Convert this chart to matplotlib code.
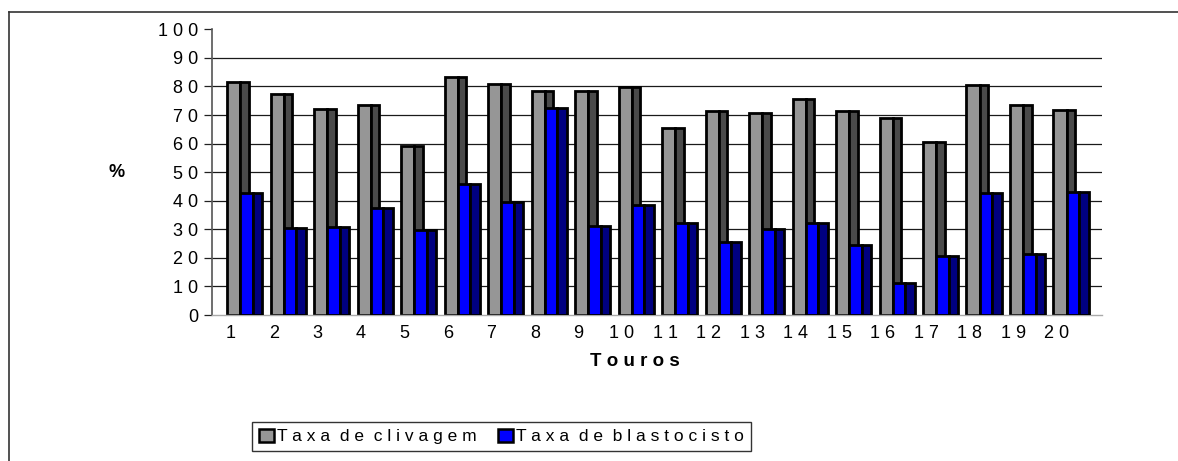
import matplotlib
matplotlib.use("Agg")
import matplotlib.pyplot as plt
from matplotlib.patches import Patch
from matplotlib.lines import Line2D

plt.rcParams['font.family'] = ['Liberation Sans', 'DejaVu Sans']

# ---- data ----
touros = [str(i) for i in range(1, 21)]
clivagem = [81.5, 77.2, 72.0, 73.5, 59.0, 83.2, 80.7, 78.4, 78.3, 79.8,
            65.3, 71.3, 70.7, 75.6, 71.3, 69.0, 60.6, 80.4, 73.6, 71.6]
blastocisto = [42.7, 30.5, 30.8, 37.5, 29.7, 45.7, 39.5, 72.3, 31.0, 38.4,
               32.3, 25.4, 30.1, 32.1, 24.4, 11.1, 20.6, 42.6, 21.3, 43.0]
yticks = list(range(0, 101, 10))
gridvals = list(range(10, 91, 10))
series_labels = ["Taxa de clivagem", "Taxa de blastocisto"]

def spaced(s):
    return " ".join(s)

W, H = 1178, 461
fig = plt.figure(figsize=(W / 100, H / 100), dpi=100)
ax = fig.add_axes([212 / W, (H - 315) / H, (1102 - 212) / W, (315 - 29.3) / H])

x = list(range(len(touros)))
lw = 2.0

gray_front, gray_side = "#969696", "#4a4a4a"
blue_front, blue_side = "#0000ff", "#000080"

# gridlines (back wall)
ax.hlines(gridvals, -0.5, 19.96, colors="#1a1a1a", linewidth=0.9, zorder=1)

# gray series: front face + side face
ax.bar([i - 0.155 for i in x], clivagem, width=0.30, align="edge",
       color=gray_front, edgecolor="black", linewidth=lw, zorder=2)
ax.bar([i + 0.144 for i in x], clivagem, width=0.206, align="edge",
       color=gray_side, edgecolor="black", linewidth=lw, zorder=2)
# blue series
ax.bar([i + 0.144 for i in x], blastocisto, width=0.292, align="edge",
       color=blue_front, edgecolor="black", linewidth=lw, zorder=3)
ax.bar([i + 0.436 for i in x], blastocisto, width=0.22, align="edge",
       color=blue_side, edgecolor="black", linewidth=lw, zorder=3)

ax.set_xlim(-0.5, 19.96)
ax.set_ylim(0, 100)

ax.set_yticks(yticks)
ax.set_yticklabels([spaced(str(v)) for v in yticks], fontsize=13)
ax.tick_params(axis="y", length=6, width=0.9, color="#222", pad=4)

ax.set_xticks([i - 0.08 for i in x])
ax.set_xticklabels([spaced(t) for t in touros], fontsize=13)
ax.tick_params(axis="x", length=0, pad=7)

for s in ["top", "right"]:
    ax.spines[s].set_visible(False)
ax.spines["left"].set_color("#555555")
ax.spines["left"].set_linewidth(1.2)
ax.spines["bottom"].set_color("#aaaaaa")
ax.spines["bottom"].set_linewidth(1.0)

fig.text(117 / W, (H - 172) / H, "%", fontsize=13, fontweight="bold",
         ha="center", va="center")
fig.text(635 / W, (H - 361) / H, spaced("Touros"), fontsize=13.5, fontweight="bold",
         ha="center", va="center")

handles = [Patch(facecolor=gray_front, edgecolor="black", linewidth=1.8),
           Patch(facecolor=blue_front, edgecolor="black", linewidth=1.8)]
labels = ["  ".join(spaced(w) for w in lab.split()) for lab in series_labels]
leg = fig.legend(handles, labels, loc="center", bbox_to_anchor=(501.5 / W, (H - 436.5) / H),
                 ncol=2, fontsize=12.5, frameon=True, fancybox=False, edgecolor="black",
                 handlelength=0.85, handleheight=0.85, handletextpad=0.2, columnspacing=1.2,
                 borderpad=0.4)
leg.get_frame().set_linewidth(1.0)

# outer frame lines
fig.add_artist(Line2D([9 / W, 1], [1 - 12 / H, 1 - 12 / H], color="#333333", linewidth=1.2,
                      transform=fig.transFigure))
fig.add_artist(Line2D([9 / W, 9 / W], [0, 1 - 12 / H], color="#333333", linewidth=1.2,
                      transform=fig.transFigure))

fig.savefig("out.png", dpi=100)
